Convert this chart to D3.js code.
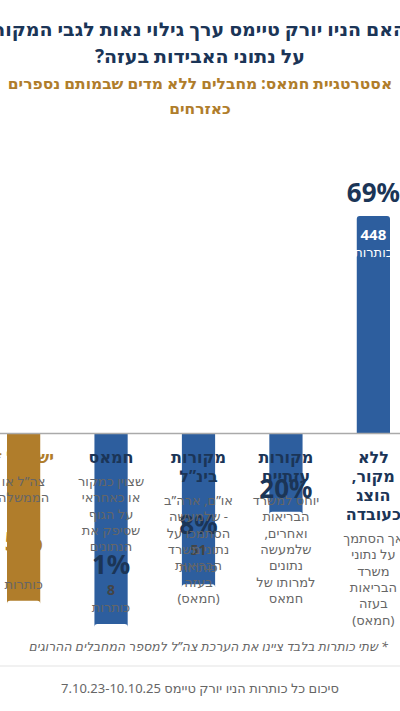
<!DOCTYPE html><html><head><meta charset="utf-8">
<script src="https://cdn.jsdelivr.net/npm/d3@7"></script>
<style>body{margin:0;background:#fff}svg{display:block;font-family:"Noto Sans","DejaVu Sans",sans-serif}</style>
</head><body><svg id="c" width="400" height="711"></svg><script>
const categories=["ללא מקור","מקורות עזתיים","מקורות בינ\"ל","חמאס","ישראל"];
const titleLines=[["ללא","מקור,","הוצג","כעובדה"],["מקורות","עזתיים"],["מקורות","בינ”ל"],["חמאס"],["ישראל *"]];
const descLines=[["אך הסתמך","על נתוני","משרד","הבריאות","בעזה","(חמאס)"],["יוחס למשרד","הבריאות","ואחרים,","שלמעשה","נתונים","למרותו של","חמאס"],["או”ם, ארה”ב","- שלמעשה","הסתמכו על","נתוני משרד","הבריאות","בעזה","(חמאס)"],["שצוין כמקור","או כאחראי","על הגוף","שסיפק את","הנתונים"],["צה”ל או","הממשלה"]];
const counts=[448,129,51,8,33];
const percents=[69,20,8,1,5];
const highlight=[false,false,false,false,true];
const svg=d3.select("#c");
const navy="#1b3557",blue="#2d5e9e",gold="#b07d2b",grey="#666";
const R=t=>"\u200F"+t+"\u200F";
const title=["האם הניו יורק טיימס ערך גילוי נאות לגבי המקור","על נתוני האבידות בעזה?"];
const sub=["אסטרטגיית חמאס: מחבלים ללא מדים שבמותם נספרים","כאזרחים"];
title.forEach((t,i)=>svg.append("text").attr("x",200).attr("y",36+i*27).attr("text-anchor","middle").attr("font-size",19).attr("font-weight",700).attr("fill",navy).text(R(t)));
sub.forEach((t,i)=>svg.append("text").attr("x",200).attr("y",89+i*25).attr("text-anchor","middle").attr("font-size",15.5).attr("font-weight",700).attr("fill",gold).text(R(t)));
const base=433;
const x=d3.scaleBand().domain(d3.range(5)).range([390,7]).paddingInner(0.62).paddingOuter(0);
const y=d3.scaleLinear().domain([-20,448]).range([base+217,216]);
const cx=i=>x(i)+x.bandwidth()/2;
const bw=x.bandwidth();
counts.forEach((c,i)=>{
  const top=y(c);
  const col=highlight[i]?gold:blue;
  svg.append("path").attr("d",`M${cx(i)-bw/2},${base}V${top+3}q0,-3 3,-3h${bw-6}q3,0 3,3V${base}Z`).attr("fill",col);
  const tc=highlight[i]?gold:navy;
  if(c>100){
    svg.append("text").attr("x",cx(i)).attr("y",top+24).attr("text-anchor","middle").attr("font-size",15).attr("font-weight",700).attr("fill","#fff").text(c);
    svg.append("text").attr("x",cx(i)).attr("y",top+41).attr("text-anchor","middle").attr("font-size",13).attr("fill","#fff").text("כותרות");
    svg.append("text").attr("x",cx(i)).attr("y",top-14).attr("text-anchor","middle").attr("font-size",26).attr("font-weight",700).attr("fill",navy).text(percents[i]+"%");
  } else {
    svg.append("text").attr("x",cx(i)).attr("y",top-12).attr("text-anchor","middle").attr("font-size",13).attr("fill",grey).text("כותרות");
    svg.append("text").attr("x",cx(i)).attr("y",top-29).attr("text-anchor","middle").attr("font-size",14).attr("font-weight",700).attr("fill",highlight[i]?gold:"#444").text(c);
    svg.append("text").attr("x",cx(i)).attr("y",top-50).attr("text-anchor","middle").attr("font-size",26).attr("font-weight",700).attr("fill",tc).text(percents[i]+"%");
  }
  let yy=463;
  titleLines[i].forEach(t=>{svg.append("text").attr("x",cx(i)).attr("y",yy).attr("text-anchor","middle").attr("font-size",16).attr("font-weight",700).attr("fill",highlight[i]?gold:navy).text(R(t));yy+=19;});
  yy+=4;
  descLines[i].forEach(t=>{svg.append("text").attr("x",cx(i)).attr("y",yy).attr("text-anchor","middle").attr("font-size",13).attr("fill",grey).text(R(t));yy+=16.3;});
});
svg.append("line").attr("x1",0).attr("x2",400).attr("y1",base+0.5).attr("y2",base+0.5).attr("stroke","#aaa").attr("stroke-width",1.5);
svg.append("text").attr("x",388).attr("y",651).attr("text-anchor","end").attr("font-size",12.5).attr("font-style","italic").attr("fill",grey).text(R("* שתי כותרות בלבד ציינו את הערכת צה”ל למספר המחבלים ההרוגים"));
svg.append("line").attr("x1",0).attr("x2",400).attr("y1",666).attr("y2",666).attr("stroke","#e3e3e3");
svg.append("text").attr("x",200).attr("y",693).attr("text-anchor","middle").attr("font-size",13).attr("fill",grey).text(R("סיכום כל כותרות הניו יורק טיימס 7.10.23-10.10.25"));
</script></body></html>
